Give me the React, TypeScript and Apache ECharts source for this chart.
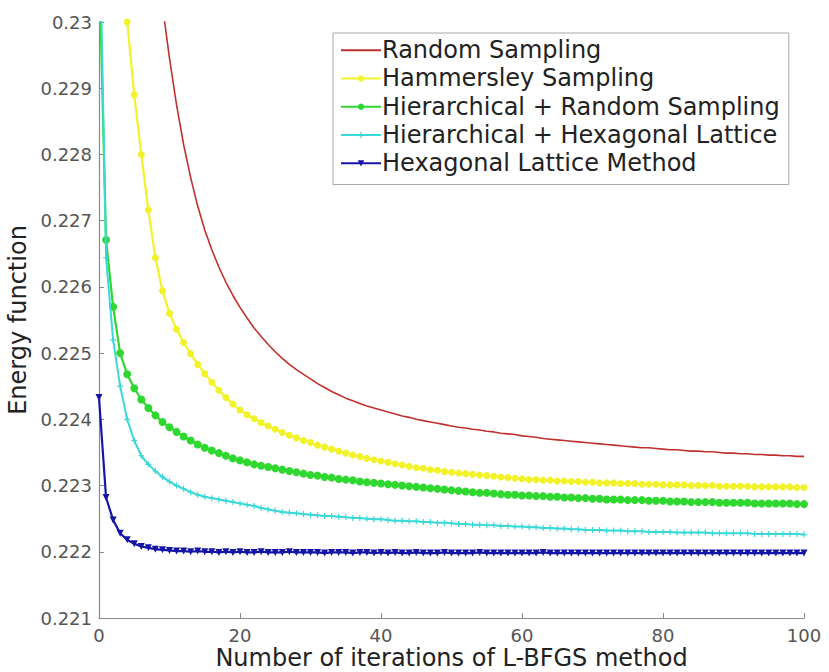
import React, { useEffect, useRef } from "react";
import * as echarts from "echarts";

// Energy function values per L-BFGS iteration (iterations 0..100)
const randomSampling = [
  0.2428, 0.2410, 0.2393, 0.2377, 0.2362, 0.2348, 0.2335, 0.2323, 0.2312, 0.23025,
  0.22945, 0.22875, 0.22815, 0.22765, 0.22722, 0.22686, 0.22656, 0.22630, 0.22607, 0.22587,
  0.22569, 0.22553, 0.22538, 0.22525, 0.22513, 0.22502, 0.22492, 0.22483, 0.22475, 0.22468,
  0.22461, 0.22454, 0.22448, 0.22442, 0.22437, 0.22432, 0.22428, 0.22424, 0.22420, 0.22417,
  0.22414, 0.22411, 0.22408, 0.22405, 0.22403, 0.22400, 0.22398, 0.22396, 0.22394, 0.22392,
  0.22390, 0.22388, 0.22387, 0.22385, 0.22384, 0.22382, 0.22381, 0.22379, 0.22378, 0.22377,
  0.22375, 0.22374, 0.22373, 0.22371, 0.22370, 0.22369, 0.22368, 0.22367, 0.22366, 0.22365,
  0.22364, 0.22363, 0.22362, 0.22361, 0.22360, 0.22359, 0.22358, 0.22357, 0.22357, 0.22356,
  0.22355, 0.22354, 0.22354, 0.22353, 0.22352, 0.22352, 0.22351, 0.22351, 0.22350, 0.22349,
  0.22349, 0.22348, 0.22348, 0.22347, 0.22347, 0.22346, 0.22346, 0.22345, 0.22345, 0.22344,
  0.22344,
];

const hammersleySampling = [
  0.2395, 0.2365, 0.2338, 0.2315, 0.23000, 0.22890, 0.22800, 0.22716, 0.22644, 0.22594,
  0.22560, 0.22536, 0.22516, 0.22499, 0.22483, 0.22469, 0.22456, 0.22444, 0.22433, 0.22423,
  0.22414, 0.22407, 0.22401, 0.22395, 0.22390, 0.22385, 0.22380, 0.22376, 0.22372, 0.22368,
  0.22365, 0.22361, 0.22358, 0.22355, 0.22352, 0.22349, 0.22346, 0.22344, 0.22341, 0.22339,
  0.22337, 0.22335, 0.22333, 0.22331, 0.22329, 0.22327, 0.22326, 0.22324, 0.22323, 0.22321,
  0.22320, 0.22319, 0.22318, 0.22317, 0.22316, 0.22315, 0.22314, 0.22313, 0.22312, 0.22311,
  0.22310, 0.22309, 0.22309, 0.22308, 0.22308, 0.22307, 0.22307, 0.22306, 0.22306, 0.22305,
  0.22305, 0.22304, 0.22304, 0.22304, 0.22303, 0.22303, 0.22303, 0.22302, 0.22302, 0.22302,
  0.22301, 0.22301, 0.22301, 0.22301, 0.22300, 0.22300, 0.22300, 0.22300, 0.22299, 0.22299,
  0.22299, 0.22299, 0.22299, 0.22298, 0.22298, 0.22298, 0.22298, 0.22298, 0.22298, 0.22297,
  0.22297,
];

const hierarchicalRandom = [
  0.2310, 0.22671, 0.22570, 0.22500, 0.22468, 0.22447, 0.22430, 0.22417, 0.22406, 0.22396,
  0.22388, 0.22381, 0.22374, 0.22368, 0.22362, 0.22357, 0.22353, 0.22349, 0.22345, 0.22341,
  0.22338, 0.22335, 0.22332, 0.22330, 0.22328, 0.22326, 0.22324, 0.22322, 0.22320, 0.22318,
  0.22316, 0.22315, 0.22313, 0.22312, 0.22310, 0.22309, 0.22308, 0.22306, 0.22305, 0.22304,
  0.22303, 0.22302, 0.22301, 0.22300, 0.22299, 0.22298, 0.22297, 0.22296, 0.22295, 0.22294,
  0.22293, 0.22292, 0.22291, 0.22290, 0.22289, 0.22289, 0.22288, 0.22287, 0.22286, 0.22286,
  0.22285, 0.22285, 0.22284, 0.22284, 0.22283, 0.22283, 0.22282, 0.22282, 0.22281, 0.22281,
  0.22280, 0.22280, 0.22279, 0.22279, 0.22279, 0.22278, 0.22278, 0.22278, 0.22277, 0.22277,
  0.22277, 0.22276, 0.22276, 0.22276, 0.22275, 0.22275, 0.22275, 0.22275, 0.22274, 0.22274,
  0.22274, 0.22274, 0.22274, 0.22273, 0.22273, 0.22273, 0.22273, 0.22273, 0.22273, 0.22272,
  0.22272,
];

const hierarchicalHexagonal = [
  0.2320, 0.22644, 0.22520, 0.22450, 0.22400, 0.22368, 0.22345, 0.22332, 0.22322, 0.22313,
  0.22306, 0.22300, 0.22295, 0.22290, 0.22286, 0.22283, 0.22281, 0.22279, 0.22277, 0.22275,
  0.22273, 0.22271, 0.22269, 0.22266, 0.22264, 0.22262, 0.22260, 0.22259, 0.22258, 0.22257,
  0.22256, 0.22255, 0.22254, 0.22254, 0.22253, 0.22252, 0.22251, 0.22251, 0.22250, 0.22249,
  0.22249, 0.22248, 0.22247, 0.22247, 0.22246, 0.22246, 0.22245, 0.22245, 0.22244, 0.22244,
  0.22243, 0.22242, 0.22242, 0.22241, 0.22241, 0.22240, 0.22240, 0.22239, 0.22239, 0.22238,
  0.22238, 0.22237, 0.22237, 0.22236, 0.22236, 0.22235, 0.22235, 0.22234, 0.22234, 0.22233,
  0.22233, 0.22233, 0.22232, 0.22232, 0.22232, 0.22231, 0.22231, 0.22231, 0.22230, 0.22230,
  0.22230, 0.22230, 0.22229, 0.22229, 0.22229, 0.22229, 0.22229, 0.22228, 0.22228, 0.22228,
  0.22228, 0.22228, 0.22228, 0.22227, 0.22227, 0.22227, 0.22227, 0.22227, 0.22227, 0.22227,
  0.22226,
];

const hexagonalLattice = [
  0.22433, 0.22282, 0.22248, 0.22228, 0.22218, 0.22212, 0.22208, 0.22206, 0.22204, 0.22203,
  0.22202, 0.22201, 0.22201, 0.22200, 0.22201, 0.22200, 0.22200, 0.22199, 0.22200, 0.22199,
  0.22200, 0.22199, 0.22199, 0.22200, 0.22199, 0.22199, 0.22199, 0.22200, 0.22199, 0.22199,
  0.22199, 0.22199, 0.22198, 0.22199, 0.22199, 0.22199, 0.22198, 0.22199, 0.22199, 0.22198,
  0.22199, 0.22198, 0.22199, 0.22198, 0.22198, 0.22199, 0.22198, 0.22198, 0.22198, 0.22199,
  0.22198, 0.22198, 0.22198, 0.22198, 0.22199, 0.22198, 0.22198, 0.22198, 0.22198, 0.22198,
  0.22198, 0.22198, 0.22198, 0.22199, 0.22198, 0.22198, 0.22198, 0.22198, 0.22198, 0.22198,
  0.22198, 0.22198, 0.22198, 0.22198, 0.22198, 0.22198, 0.22198, 0.22198, 0.22198, 0.22198,
  0.22198, 0.22198, 0.22198, 0.22198, 0.22198, 0.22198, 0.22198, 0.22198, 0.22198, 0.22198,
  0.22198, 0.22198, 0.22198, 0.22198, 0.22198, 0.22198, 0.22198, 0.22198, 0.22198, 0.22198,
  0.22198,
];

const seriesNames = [
  "Random Sampling",
  "Hammersley Sampling",
  "Hierarchical + Random Sampling",
  "Hierarchical + Hexagonal Lattice",
  "Hexagonal Lattice Method",
];

const xAxisTitle = "Number of iterations of L-BFGS method";
const yAxisTitle = "Energy function";

const FONT = "DejaVu Sans";

const toPairs = (arr: number[]) => arr.map((v, i) => [i, v]);

export default function App() {
  const ref = useRef<HTMLDivElement>(null);

  useEffect(() => {
    if (!ref.current) return;
    const chart = echarts.init(ref.current, undefined, { renderer: "svg" });

    const plus = "path://M4,0 L6,0 L6,4 L10,4 L10,6 L6,6 L6,10 L4,10 L4,6 L0,6 L0,4 L4,4 Z";

    const option = {
      animation: false,
      backgroundColor: "#ffffff",
      grid: {
        left: 99,
        right: 25,
        top: 22,
        bottom: 54,
        containLabel: false,
        outerBoundsMode: "none",
      },
      legend: {
        orient: "vertical",
        left: 333,
        top: 33,
        data: [
          { name: seriesNames[0], itemStyle: { opacity: 0 } },
          seriesNames[1],
          seriesNames[2],
          seriesNames[3],
          seriesNames[4],
        ],
        itemWidth: 40,
        itemHeight: 8,
        itemGap: 0,
        padding: [3, 9, 7, 7],
        borderColor: "#a8a8a8",
        borderWidth: 1,
        backgroundColor: "#ffffff",
        textStyle: {
          fontFamily: FONT,
          fontSize: 24,
          lineHeight: 28.3,
          color: "#222",
          padding: [0, 0, 0, -4],
        },
      },
      xAxis: {
        type: "value",
        min: 0,
        max: 100,
        interval: 20,
        name: xAxisTitle,
        nameLocation: "middle",
        nameMoveOverlap: false,
        nameGap: 28,
        nameTextStyle: { fontFamily: FONT, fontSize: 24, lineHeight: 24, color: "#222" },
        axisLine: { lineStyle: { color: "#8a8a8a", width: 1.2 } },
        axisTick: { inside: true, length: 5, lineStyle: { color: "#8a8a8a" } },
        axisLabel: { fontFamily: FONT, fontSize: 18, lineHeight: 18, color: "#555", margin: 8 },
        splitLine: { show: false },
      },
      yAxis: {
        type: "value",
        min: 0.221,
        max: 0.23,
        interval: 0.001,
        name: yAxisTitle,
        nameLocation: "middle",
        nameRotate: 90,
        nameGap: 66,
        nameTextStyle: { fontFamily: FONT, fontSize: 24, color: "#222" },
        axisLine: { show: true, lineStyle: { color: "#8a8a8a", width: 1.2 } },
        axisTick: { show: true, inside: true, length: 5, lineStyle: { color: "#8a8a8a" } },
        axisLabel: {
          fontFamily: FONT,
          fontSize: 18,
          color: "#555",
          margin: 7,
          formatter: (v: number) => String(Number(v.toFixed(3))),
        },
        splitLine: { show: false },
      },
      series: [
        {
          name: seriesNames[0],
          type: "line",
          data: toPairs(randomSampling),
          symbol: "none",
          color: "#c0302e",
          lineStyle: { width: 1.6, color: "#c0302e" },
          clip: true,
          z: 1,
        },
        {
          name: seriesNames[1],
          type: "line",
          data: toPairs(hammersleySampling),
          symbol: "circle",
          symbolSize: 7,
          showAllSymbol: true,
          color: "#f2f22a",
          lineStyle: { width: 2.2, color: "#f2f22a" },
          itemStyle: { color: "#f2f22a" },
          clip: true,
          z: 2,
        },
        {
          name: seriesNames[2],
          type: "line",
          data: toPairs(hierarchicalRandom),
          symbol: "circle",
          symbolSize: 8,
          showAllSymbol: true,
          color: "#2fd82f",
          lineStyle: { width: 2.2, color: "#2fd82f" },
          itemStyle: { color: "#2fd82f" },
          clip: true,
          z: 3,
        },
        {
          name: seriesNames[3],
          type: "line",
          data: toPairs(hierarchicalHexagonal),
          symbol: plus,
          symbolSize: 6,
          showAllSymbol: true,
          color: "#3ad8d8",
          lineStyle: { width: 2, color: "#3ad8d8" },
          itemStyle: { color: "#3ad8d8" },
          clip: true,
          z: 4,
        },
        {
          name: seriesNames[4],
          type: "line",
          data: toPairs(hexagonalLattice),
          symbol: "triangle",
          symbolRotate: 180,
          symbolSize: 7,
          showAllSymbol: true,
          color: "#1414a8",
          lineStyle: { width: 2.2, color: "#1414a8" },
          itemStyle: { color: "#1414a8" },
          clip: true,
          z: 5,
        },
      ],
    };

    chart.setOption(option as any);
    return () => chart.dispose();
  }, []);

  return (
    <div
      ref={ref}
      style={{ width: 829, height: 672, position: "absolute", left: 0, top: 0 }}
    />
  );
}
